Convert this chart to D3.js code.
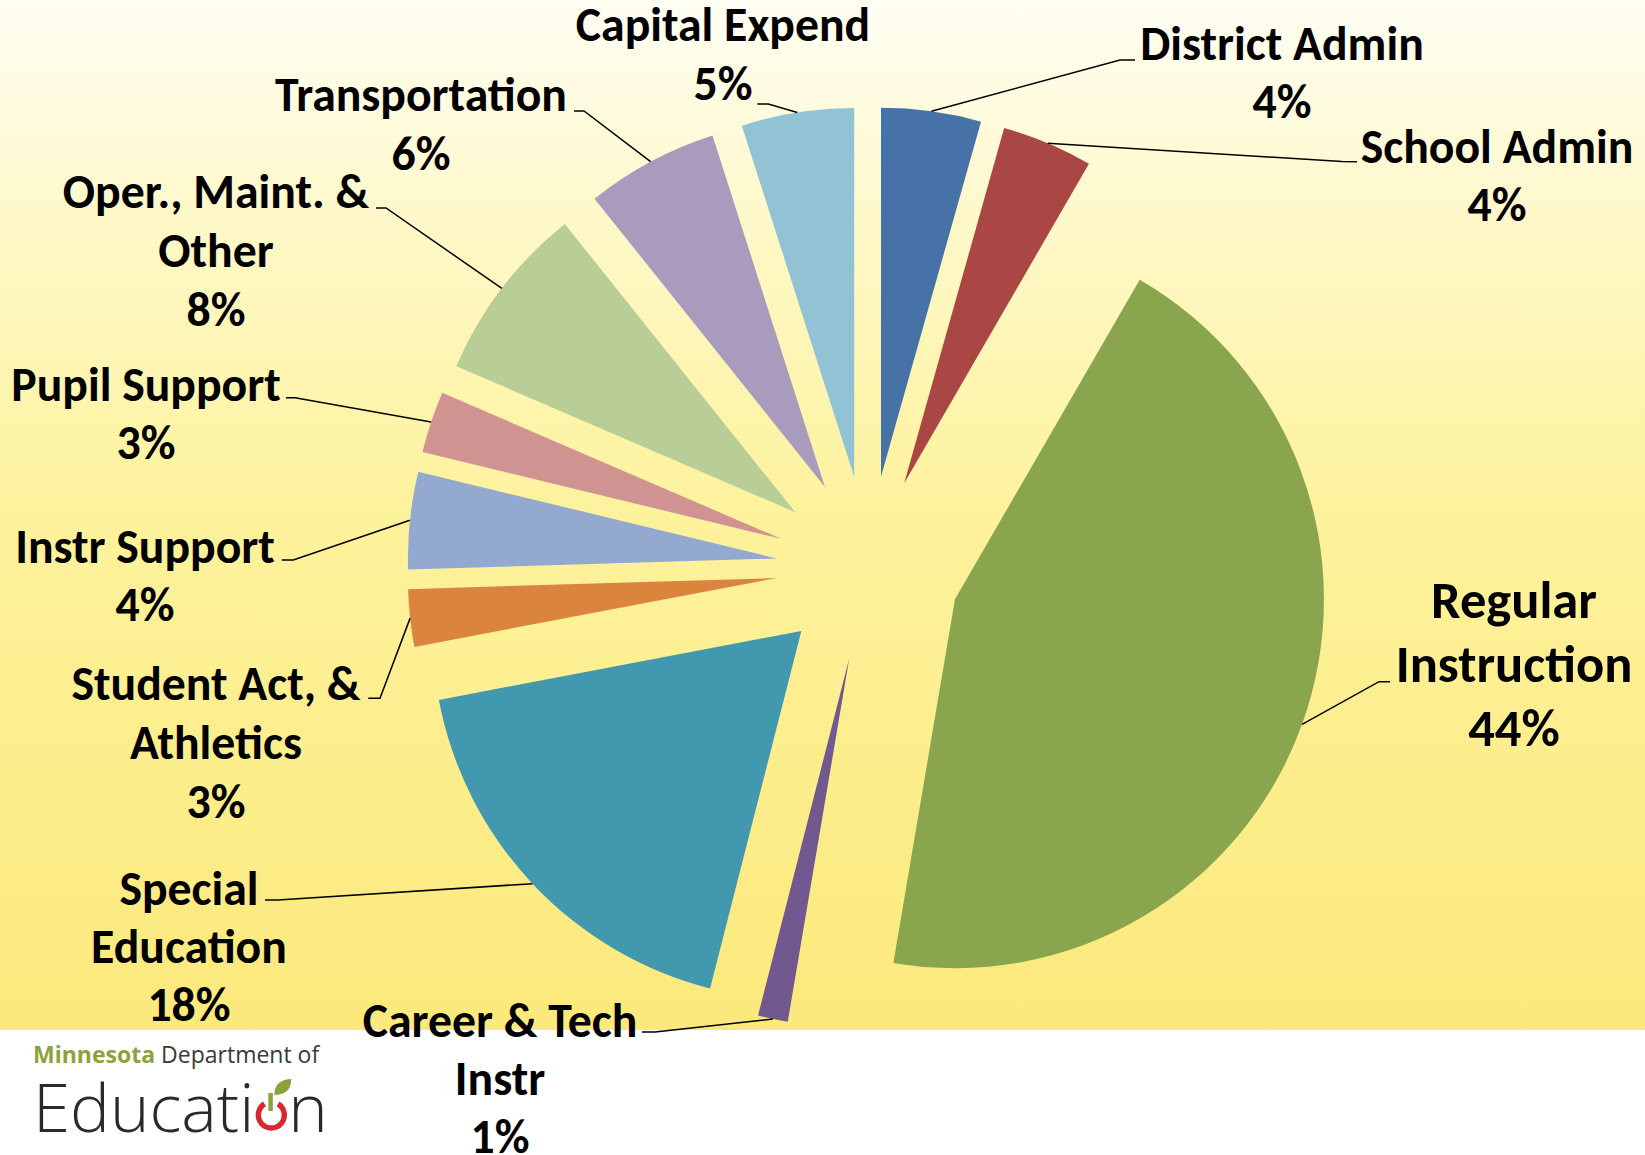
<!DOCTYPE html>
<html>
<head>
<meta charset="utf-8">
<script src="https://cdn.jsdelivr.net/npm/d3@7"></script>
<style>
  html, body { margin: 0; padding: 0; background: #ffffff; }
  svg { display: block; }
</style>
</head>
<body>
<svg id="chart" width="1645" height="1155"></svg>
<script>
// ---------------- DATA ----------------
const categories = ["District Admin", "School Admin", "Regular Instruction", "Career & Tech Instr",
  "Special Education", "Student Act, & Athletics", "Instr Support", "Pupil Support",
  "Oper., Maint. & Other", "Transportation", "Capital Expend"];
const values = [4.37, 3.98, 44.34, 1.31, 18.04, 2.51, 4.26, 2.70, 7.79, 5.81, 4.93];
const labelLines = [["District Admin"], ["School Admin"], ["Regular", "Instruction"], ["Career & Tech", "Instr"],
  ["Special", "Education"], ["Student Act, &", "Athletics"], ["Instr Support"], ["Pupil Support"],
  ["Oper., Maint. &", "Other"], ["Transportation"], ["Capital Expend"]];
const colors = ["#4672a8", "#aa4643", "#89a54e", "#71588f", "#4198af", "#db843d",
  "#93a9cf", "#d19392", "#b9cd96", "#a99bbd", "#92c3d4"];

// ---------------- LAYOUT ----------------
const W = 1645, H = 1155;
const cx = 868.4, cy = 568, R = 369, explode = 92;
const bgBottom = 1030;
// label layout: center x, first line center y, line height, leader elbow, leader end
const labelLayout = [
  { x: 1282, y: 44,  lh: 58, elbow: [1120, 60],  end: [1135, 60] },
  { x: 1497, y: 147, lh: 58, elbow: [1342, 161.5], end: [1357, 161.7] },
  { x: 1514, y: 601, lh: 64, elbow: [1379, 681.7], end: [1390, 681.7], big: true },
  { x: 500,  y: 1021, lh: 58, elbow: [655, 1032], end: [642, 1032] },
  { x: 189,  y: 889, lh: 58, elbow: [278, 900],  end: [265, 900] },
  { x: 216,  y: 684, lh: 59, elbow: [380, 698.3], end: [368.3, 698.3] },
  { x: 145,  y: 547, lh: 58, elbow: [293.3, 560], end: [281.7, 560] },
  { x: 146,  y: 385, lh: 58, elbow: [295, 397.7], end: [286, 397.7] },
  { x: 216,  y: 192, lh: 59, elbow: [386, 208],  end: [376, 208] },
  { x: 421,  y: 95.5, lh: 59, elbow: [584, 111], end: [574, 111] },
  { x: 723,  y: 25,  lh: 59, elbow: [768.3, 104], end: [757.3, 104] }
];

const svg = d3.select("#chart");
const defs = svg.append("defs");
const grad = defs.append("linearGradient").attr("id", "bg").attr("x1", 0).attr("y1", 0).attr("x2", 0).attr("y2", 1);
[[0, "#fffef3"], [0.22, "#fef8c8"], [0.5, "#fdf29c"], [1, "#fce97c"]].forEach(([o, c]) =>
  grad.append("stop").attr("offset", o).attr("stop-color", c));

svg.append("rect").attr("x", 0).attr("y", 0).attr("width", W).attr("height", H).attr("fill", "#ffffff");
svg.append("rect").attr("x", 0).attr("y", 0).attr("width", W).attr("height", bgBottom).attr("fill", "url(#bg)");

const data = categories.map((c, i) => ({ name: c, value: values[i], color: colors[i], lines: labelLines[i], layout: labelLayout[i] }));
const total = d3.sum(values);

const pie = d3.pie().sort(null).value(d => d.value).startAngle(0).endAngle(2 * Math.PI);
const arc = d3.arc().innerRadius(0).outerRadius(R);
const arcs = pie(data);

const g = svg.append("g").attr("transform", `translate(${cx},${cy})`);
arcs.forEach(a => {
  const mid = (a.startAngle + a.endAngle) / 2;
  a.dx = explode * Math.sin(mid);
  a.dy = -explode * Math.cos(mid);
  a.edge = [cx + a.dx + R * Math.sin(mid), cy + a.dy - R * Math.cos(mid)];
});

g.selectAll("path.slice").data(arcs).join("path")
  .attr("class", "slice")
  .attr("d", arc)
  .attr("fill", d => d.data.color)
  .attr("transform", d => `translate(${d.dx},${d.dy})`);

// leader lines
const line = d3.line();
svg.selectAll("path.leader").data(arcs).join("path")
  .attr("class", "leader")
  .attr("d", d => line([d.edge, d.data.layout.elbow, d.data.layout.end]))
  .attr("fill", "none").attr("stroke", "#000").attr("stroke-width", 1.5);

// font size fitting (target width of "Transportation" in the reference)
const fontFam = "Carlito, Lato, 'Open Sans', sans-serif";
const probe = svg.append("text").attr("font-family", fontFam).attr("font-weight", "bold")
  .attr("font-size", 40).text("Transportation");
const pw = probe.node().getComputedTextLength();
probe.remove();
const fs = Math.max(30, Math.min(52, 40 * 292 / pw));
const fsBig = fs * 1.1;

const labels = svg.selectAll("text.lbl").data(arcs).join("text")
  .attr("class", "lbl")
  .attr("font-family", fontFam)
  .attr("font-weight", "bold")
  .attr("text-anchor", "middle")
  .attr("fill", "#000");
labels.each(function (d) {
  const L = d.data.layout;
  const size = L.big ? fsBig : fs;
  const t = d3.select(this).attr("font-size", size);
  const lines = d.data.lines.concat([Math.round(d.data.value / total * 100) + "%"]);
  lines.forEach((s, i) => {
    t.append("tspan").attr("x", L.x).attr("y", L.y + i * L.lh + size * 0.33).text(s);
  });
});

// ---------------- LOGO ----------------
const logo = svg.append("g");
const t1 = logo.append("text").attr("x", 33).attr("y", 1063)
  .attr("font-family", "'Open Sans', sans-serif").attr("font-size", 23);
t1.append("tspan").attr("font-weight", "bold").attr("fill", "#8ba33b").text("Minnesota");
t1.append("tspan").attr("fill", "#3a3a3a").attr("dx", 6).text("Department of");

const edu = logo.append("text").attr("x", 33).attr("y", 1132)
  .attr("font-family", "'Open Sans', sans-serif").attr("font-weight", 300)
  .attr("font-size", 67).attr("fill", "#2a2a2a").text("Educati");
const ew = edu.node().getComputedTextLength();
const ringX = 33 + ew + 17, ringY = 1115, ringR = 13;
logo.append("path")
  .attr("d", d3.arc().innerRadius(ringR - 2.7).outerRadius(ringR + 2.7).startAngle(0.55).endAngle(2 * Math.PI - 0.55)())
  .attr("transform", `translate(${ringX},${ringY})`)
  .attr("fill", "#d8282f");
logo.append("rect").attr("x", ringX - 3).attr("y", 1093).attr("width", 4.5).attr("height", 18).attr("fill", "#8ba33b");
logo.append("path")
  .attr("d", `M${ringX + 3},${1095} C${ringX + 3},${1084} ${ringX + 10},${1079} ${ringX + 20},${1079} C${ringX + 20},${1090} ${ringX + 13},${1095} ${ringX + 3},${1095} Z`)
  .attr("fill", "#8ba33b");
logo.append("text").attr("x", ringX + 17).attr("y", 1132)
  .attr("font-family", "'Open Sans', sans-serif").attr("font-weight", 300)
  .attr("font-size", 67).attr("fill", "#2a2a2a").text("n");
</script>
</body>
</html>
